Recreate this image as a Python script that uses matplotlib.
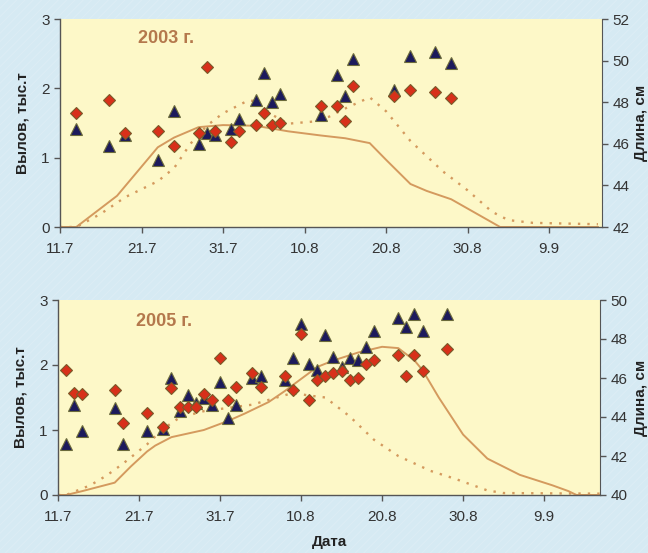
import matplotlib
matplotlib.use("Agg")
import matplotlib.pyplot as plt
from matplotlib.patches import Rectangle
import pandas as pd

plt.rcParams['font.family'] = ['Liberation Sans', 'DejaVu Sans']
plt.rcParams['hatch.linewidth'] = 0.8

# ---------------- data ----------------
YEAR_TOP = 2003
YEAR_BOTTOM = 2005
tick_labels = ["11.7", "21.7", "31.7", "10.8", "20.8", "30.8", "9.9"]

# 2003: length samples (cm), right axis
pt_dates_2003 = ["13.7", "17.7", "19.7", "23.7", "25.7", "28.7", "29.7", "30.7", "1.8", "2.8",
                 "4.8", "5.8", "6.8", "7.8", "12.8", "14.8", "15.8", "16.8", "21.8", "23.8",
                 "26.8", "28.8"]
len_diam_2003 = [47.5, 48.1, 46.5, 46.6, 45.9, 46.5, 49.7, 46.6, 46.1, 46.6,
                 46.9, 47.5, 46.9, 47.0, 47.8, 47.8, 47.1, 48.8, 48.3, 48.6,
                 48.5, 48.2]
len_tri_2003 = [46.7, 45.9, 46.4, 45.2, 47.6, 46.0, 46.5, 46.4, 46.7, 47.2,
                48.1, 49.4, 48.0, 48.4, 47.4, 49.3, 48.3, 50.1, 48.6, 50.2,
                50.4, 49.9]

# 2003: catch (thousand t), left axis
solid_dates_2003 = ["11.7", "13.7", "18.7", "23.7", "25.7", "28.7", "31.7", "4.8", "8.8", "12.8",
                    "15.8", "18.8", "20.8", "23.8", "25.8", "28.8", "31.8", "3.9", "15.9"]
solid_2003 = [0, 0, 0.45, 1.15, 1.29, 1.44, 1.47, 1.46, 1.38, 1.32,
              1.28, 1.21, 0.97, 0.62, 0.52, 0.40, 0.20, 0.0, 0.0]
dot_dates_2003 = ["11.7", "13.7", "16.7", "19.7", "23.7", "25.7", "27.7", "29.7", "31.7", "3.8",
                  "4.8", "6.8", "8.8", "11.8", "13.8", "15.8", "18.8", "20.8", "23.8", "25.8",
                  "27.8", "30.8", "2.9", "4.9", "7.9", "15.9"]
dot_2003 = [0, 0, 0.19, 0.43, 0.66, 0.85, 1.20, 1.46, 1.64, 1.82,
            1.82, 1.62, 1.49, 1.52, 1.59, 1.71, 1.87, 1.67, 1.24, 1.02,
            0.80, 0.53, 0.22, 0.10, 0.06, 0.04]

# 2005: length samples (cm)
pt_dates_2005 = ["12.7", "13.7", "14.7", "18.7", "19.7", "22.7", "24.7", "25.7", "26.7", "27.7",
                 "28.7", "29.7", "30.7", "31.7", "1.8", "2.8", "4.8", "5.8", "8.8", "9.8",
                 "10.8", "11.8", "12.8", "13.8", "14.8", "15.8", "16.8", "17.8", "18.8", "19.8",
                 "22.8", "23.8", "24.8", "25.8", "28.8"]
len_diam_2005 = [46.4, 45.25, 45.2, 45.4, 43.7, 44.2, 43.5, 45.5, 44.5, 44.5,
                 44.5, 45.2, 44.85, 47.05, 44.85, 45.55, 46.25, 45.55, 46.1, 45.4,
                 48.25, 44.85, 45.9, 46.1, 46.25, 46.35, 45.9, 46.0, 46.7, 46.9,
                 47.2, 46.1, 47.2, 46.35, 47.5]
len_tri_2005 = [42.6, 44.6, 43.3, 44.45, 42.6, 43.3, 43.4, 46.0, 44.3, 45.15,
                44.7, 45.0, 44.6, 45.8, 43.95, 44.6, 46.0, 46.1, 45.9, 47.05,
                48.75, 46.7, 46.4, 48.2, 47.1, 46.55, 47.05, 46.9, 47.6, 48.4,
                49.1, 48.6, 49.3, 48.4, 49.3]

# 2005: catch (thousand t)
solid_dates_2005 = ["11.7", "12.7", "14.7", "18.7", "20.7", "22.7", "23.7", "25.7", "29.7", "1.8",
                    "3.8", "6.8", "8.8", "12.8", "14.8", "17.8", "20.8", "22.8", "24.8", "25.8",
                    "27.8", "30.8", "2.9", "6.9", "10.9", "12.9", "13.9", "17.9"]
solid_2005 = [0, 0, 0.06, 0.19, 0.44, 0.67, 0.76, 0.89, 1.00, 1.14,
              1.25, 1.43, 1.60, 1.97, 2.07, 2.19, 2.28, 2.26, 2.07, 1.92,
              1.50, 0.93, 0.56, 0.31, 0.15, 0.06, 0.0, 0.0]
dot_dates_2005 = ["11.7", "12.7", "15.7", "17.7", "19.7", "22.7", "24.7", "26.7", "29.7", "1.8",
                  "4.8", "7.8", "9.8", "11.8", "13.8", "16.8", "19.8", "22.8", "26.8", "29.8",
                  "2.9", "4.9", "17.9"]
dot_2005 = [0, 0, 0.15, 0.30, 0.48, 0.78, 1.02, 1.19, 1.29, 1.34,
            1.39, 1.50, 1.57, 1.53, 1.50, 1.21, 0.85, 0.60, 0.37, 0.25,
            0.07, 0.03, 0.02]

# ---------------- style ----------------
FIG_BG = "#d6eaf3"
HATCH_C = "#dcedf5"
AX_BG = "#fdf8c8"
LINE_C = "#d49a5e"
TITLE_C = "#b4784c"
TRI_C = "#1c1a5c"
DIAM_C = "#d8301a"
TEXT_C = "#333333"


def to_dates(labels, year):
    return pd.to_datetime([f"{s}.{year}" for s in labels], format="%d.%m.%Y")


fig = plt.figure(figsize=(6.48, 5.53), dpi=100, facecolor=FIG_BG)
fig.patches.append(Rectangle((0, 0), 1, 1, transform=fig.transFigure, facecolor=FIG_BG,
                             edgecolor=HATCH_C, hatch="////", lw=0, zorder=-10))

panels = [
    dict(year=YEAR_TOP, rect=[60 / 648, 1 - 227 / 553, 542 / 648, 208 / 553],
         pts=pt_dates_2003, diam=len_diam_2003, tri=len_tri_2003,
         sd=solid_dates_2003, s=solid_2003, dd=dot_dates_2003, d=dot_2003,
         rlim=(42, 52), label="2003 г.", span=66.5, ty=0.905),
    dict(year=YEAR_BOTTOM, rect=[58 / 648, 1 - 495 / 553, 542 / 648, 195 / 553],
         pts=pt_dates_2005, diam=len_diam_2005, tri=len_tri_2005,
         sd=solid_dates_2005, s=solid_2005, dd=dot_dates_2005, d=dot_2005,
         rlim=(40, 50), label="2005 г.", span=66.9, ty=0.89),
]

for i, p in enumerate(panels):
    ax = fig.add_axes(p["rect"])
    ax.set_facecolor(AX_BG)
    yr = p["year"]
    start = pd.Timestamp(f"{yr}-07-11")
    ax.plot(to_dates(p["sd"], yr), p["s"], color=LINE_C, lw=1.4, solid_joinstyle="round", zorder=2)
    ax.plot(to_dates(p["dd"], yr), p["d"], color=LINE_C, lw=1.7, ls=(0, (1, 3.0)), zorder=2)
    ax.set_ylim(0, 3)
    ax.set_yticks([0, 1, 2, 3])
    ax.set_xlim(start, start + pd.Timedelta(days=p["span"]))
    ticks = to_dates(tick_labels, yr)
    ax.set_xticks(ticks)
    ax.set_xticklabels(tick_labels)
    for sp in ["top", "right"]:
        ax.spines[sp].set_visible(False)
    for sp in ["left", "bottom"]:
        ax.spines[sp].set_color("#555555")
        ax.spines[sp].set_linewidth(1.0)
    ax.tick_params(axis="both", colors="#555555", labelcolor=TEXT_C, labelsize=11,
                   length=4, width=1.0, direction="out")
    ax.tick_params(axis="x", pad=7)
    ax.set_ylabel("Вылов, тыс.т", fontsize=11, fontweight="bold", color="#222222", labelpad=8)
    ax.text(0.195, p["ty"], p["label"], transform=ax.transAxes,
            ha="center", va="center", fontsize=13, fontweight="bold", color=TITLE_C)

    ax2 = ax.twinx()
    pdates = to_dates(p["pts"], yr)
    ax2.plot(pdates, p["tri"], ls="none", marker="^", ms=8.5, mfc=TRI_C, mec="#6b6a3a",
             mew=0.8, zorder=4)
    ax2.plot(pdates, p["diam"], ls="none", marker="D", ms=6, mfc=DIAM_C, mec="#7a5a2a",
             mew=0.8, zorder=5)
    ax2.set_ylim(*p["rlim"])
    ax2.set_yticks(range(p["rlim"][0], p["rlim"][1] + 1, 2))
    for sp in ["top", "left", "bottom"]:
        ax2.spines[sp].set_visible(False)
    ax2.spines["right"].set_color("#555555")
    ax2.tick_params(axis="y", colors="#555555", labelcolor=TEXT_C, labelsize=11,
                    length=4, width=1.0, direction="out")
    ax2.set_ylabel("Длина, см", fontsize=11, fontweight="bold", color="#222222", rotation=90)
    x_lab = (634 - p["rect"][0] * 648) / (p["rect"][2] * 648)
    ax2.yaxis.set_label_coords(x_lab, 0.5)
    if i == 1:
        ax.set_xlabel("Дата", fontsize=11, fontweight="bold", color="#222222", labelpad=8)

fig.savefig("out.png", dpi=100, facecolor=FIG_BG)
